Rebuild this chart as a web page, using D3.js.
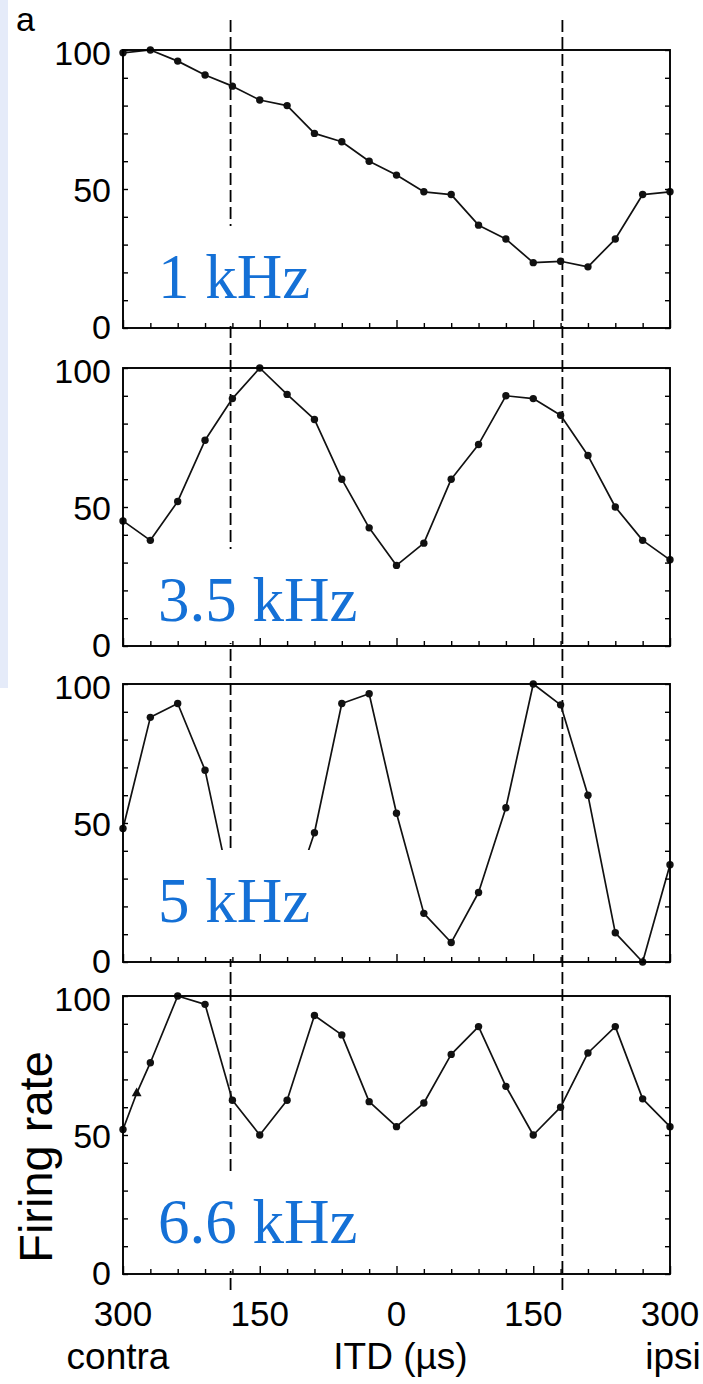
<!DOCTYPE html>
<html>
<head>
<meta charset="utf-8">
<script src="https://cdn.jsdelivr.net/npm/d3@7"></script>
<style>
  html, body { margin: 0; padding: 0; background: #fff; }
  svg { display: block; }
</style>
</head>
<body>
<svg id="chart" width="703" height="1384"></svg>
<script>
// ITD grid (µs), negative = contra, positive = ipsi
const itd = [-300, -270, -240, -210, -180, -150, -120, -90, -60, -30, 0,
             30, 60, 90, 120, 150, 180, 210, 240, 270, 300];
// 6.6 kHz run has one extra sample at -285 µs
const itd66 = [-300, -285, -270, -240, -210, -180, -150, -120, -90, -60, -30, 0,
               30, 60, 90, 120, 150, 180, 210, 240, 270, 300];

// Normalised firing rate (%)
const rate1k  = [99, 100, 96, 91, 87, 82, 80, 70, 67, 60, 55, 49, 48, 37, 32, 23.5, 24, 22, 32, 48, 49];
const rate35k = [45, 38, 52, 74, 89, 100, 90.5, 81.5, 60, 42.5, 29, 37, 60, 72.5, 90, 89, 83, 68.5, 50, 38, 31];
const rate5k  = [48, 88, 93, 69, 23, 5, 17, 46.5, 93, 96.5, 53.5, 17.5, 7, 25, 55.5, 100, 92.5, 60, 10.5, 0, 35];
const rate66k = [52, 65, 76, 100, 97, 62.5, 50, 62.5, 93, 86, 62, 53, 61.5, 79, 89, 67.5, 50, 60, 79.5, 89, 63, 53];
const marker66k = ["dot", "triangle", "dot", "dot", "dot", "dot", "dot", "dot", "dot", "dot", "dot",
                   "dot", "dot", "dot", "dot", "dot", "dot", "dot", "dot", "dot", "dot", "dot"];

const freqLabels = ["1 kHz", "3.5 kHz", "5 kHz", "6.6 kHz"];
const yTickLabels = [0, 50, 100];
const xTickLabels = [-300, -150, 0, 150, 300];
const xSideLabels = ["contra", "ITD (\u00b5s)", "ipsi"];
const markerITD = [-182, 182];   // dashed reference lines

const panels = [
  { x: itd,   y: rate1k,  marker: null },
  { x: itd,   y: rate35k, marker: null },
  { x: itd,   y: rate5k,  marker: null },
  { x: itd66, y: rate66k, marker: marker66k }
];

// ---- layout ----
const left = 123, right = 670;
const panelTops = [50, 368, 684, 996];
const panelH = 278;
const labelDy = [-30, -25, -40, -31];

const svg = d3.select("#chart");
const sansFont = "'Liberation Sans', Arial, Helvetica, sans-serif";
const serifFont = "'Liberation Serif', 'Times New Roman', serif";

// pale side strip
svg.append("rect").attr("x", 0).attr("y", 0).attr("width", 8).attr("height", 688)
  .attr("fill", "#e5ebf9");

svg.append("text").attr("x", 16).attr("y", 31)
  .attr("font-family", sansFont).attr("font-size", 34).attr("fill", "#000").text("a");

const x = d3.scaleLinear().domain([-300, 300]).range([left, right]);

const dashLayer = svg.append("g");
const dataLayer = svg.append("g");
const boxLayer = svg.append("g");
const axisLayer = svg.append("g");

// dashed reference lines across all panels
dashLayer.selectAll("line").data(markerITD).join("line")
  .attr("x1", d => x(d)).attr("x2", d => x(d))
  .attr("y1", 20).attr("y2", panelTops[3] + panelH + 16)
  .attr("stroke", "#000").attr("stroke-width", 1.8)
  .attr("stroke-dasharray", "12,5");

function label(g, px, py, txt, anchor, size) {
  g.append("text")
    .attr("x", px).attr("y", py)
    .attr("text-anchor", anchor)
    .attr("dominant-baseline", "central")
    .attr("font-family", sansFont).attr("font-size", size).attr("fill", "#000")
    .text(txt);
}

panels.forEach((p, k) => {
  const top = panelTops[k], bottom = top + panelH;
  const y = d3.scaleLinear().domain([0, 100]).range([bottom, top]);
  const pts = p.x.map((v, i) => ({ t: v, r: p.y[i], m: p.marker ? p.marker[i] : "dot" }));

  const line = d3.line().x(d => x(d.t)).y(d => y(d.r));
  dataLayer.append("path").datum(pts).attr("d", line)
    .attr("fill", "none").attr("stroke", "#111").attr("stroke-width", 1.7)
    .attr("stroke-linejoin", "round");

  dataLayer.selectAll(null).data(pts.filter(d => d.m === "dot")).join("circle")
    .attr("cx", d => x(d.t)).attr("cy", d => y(d.r)).attr("r", 3.7).attr("fill", "#111");

  dataLayer.selectAll(null).data(pts.filter(d => d.m === "triangle")).join("path")
    .attr("transform", d => `translate(${x(d.t)},${y(d.r)})`)
    .attr("d", d3.symbol(d3.symbolTriangle, 42)())
    .attr("fill", "#111");

  // frequency label on a white plate
  const base = bottom + labelDy[k];
  boxLayer.append("rect")
    .attr("x", left + 10).attr("y", base - 72)
    .attr("width", 240).attr("height", bottom - 3 - (base - 72))
    .attr("fill", "#fff");
  boxLayer.append("text").attr("x", 158).attr("y", base)
    .attr("font-family", serifFont).attr("font-size", 63).attr("fill", "#1470d6")
    .text(freqLabels[k]);

  // frame
  axisLayer.append("rect").attr("x", left).attr("y", top)
    .attr("width", right - left).attr("height", panelH)
    .attr("fill", "none").attr("stroke", "#000").attr("stroke-width", 1.9);

  // inward ticks
  const yTicks = d3.range(0, 101, 10);
  const la = axisLayer.append("g").attr("transform", `translate(${left},0)`)
    .call(d3.axisRight(y).tickValues(yTicks).tickSize(5).tickFormat(""));
  const ra = axisLayer.append("g").attr("transform", `translate(${right},0)`)
    .call(d3.axisLeft(y).tickValues(yTicks).tickSize(5).tickFormat(""));
  const ba = axisLayer.append("g").attr("transform", `translate(0,${bottom})`)
    .call(d3.axisTop(x).tickValues(d3.range(-300, 301, 30)).tickSize(5).tickFormat(""));
  [la, ra, ba].forEach(a => {
    a.select(".domain").remove();
    a.selectAll("line").attr("stroke", "#000").attr("stroke-width", 1.4);
  });
  ba.selectAll(".tick line").filter(d => d % 150 === 0).attr("y2", -8);

  yTickLabels.forEach(v => {
    const dy = v === 0 ? -1 : (v === 100 ? 3 : 1);
    label(axisLayer, 111, y(v) + dy, String(v), "end", 34);
  });
});

// bottom axis labels
const lastBottom = panelTops[3] + panelH;
xTickLabels.forEach(v => {
  label(axisLayer, x(v), lastBottom + 39, String(Math.abs(v)), "middle", 35);
});
const sideX = [x(-300) - 5, x(0) + 4, x(300) + 3];
xSideLabels.forEach((t, i) => {
  label(axisLayer, sideX[i], lastBottom + 82, t, "middle", 37);
});

svg.append("text")
  .attr("transform", `translate(52,1157) rotate(-90)`)
  .attr("text-anchor", "middle")
  .attr("font-family", sansFont).attr("font-size", 47).attr("fill", "#000")
  .text("Firing rate");
</script>
</body>
</html>
